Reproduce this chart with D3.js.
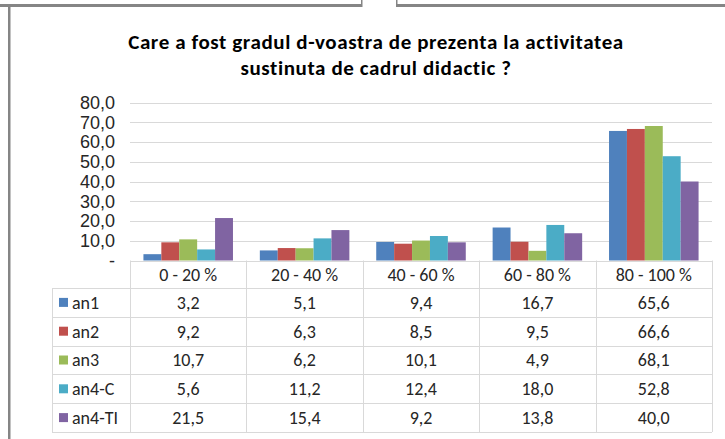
<!DOCTYPE html>
<html>
<head>
<meta charset="utf-8">
<script src="https://cdn.jsdelivr.net/npm/d3@7"></script>
<style>
  html, body { margin: 0; padding: 0; background: #fff; }
  svg { display: block; font-family: Carlito, Calibri, Lato, sans-serif; }
</style>
</head>
<body>
<div id="chart"></div>
<script>
// chart data
const categories = ["0 - 20 %", "20 - 40 %", "40 - 60 %", "60 - 80 %", "80 - 100 %"];
const seriesNames = ["an1", "an2", "an3", "an4-C", "an4-TI"];
const an1 = [3.2, 5.1, 9.4, 16.7, 65.6];
const an2 = [9.2, 6.3, 8.5, 9.5, 66.6];
const an3 = [10.7, 6.2, 10.1, 4.9, 68.1];
const an4C = [5.6, 11.2, 12.4, 18.0, 52.8];
const an4TI = [21.5, 15.4, 9.2, 13.8, 40.0];
const yTicks = [0, 10, 20, 30, 40, 50, 60, 70, 80];
const titleLines = ["Care a fost gradul d-voastra de prezenta la activitatea", "sustinuta de cadrul didactic ?"];

const seriesValues = [an1, an2, an3, an4C, an4TI];
const colors = ["#4F81BD", "#C0504D", "#9BBB59", "#4BACC6", "#8064A2"];

const width = 725, height = 439;
const plotLeft = 130, plotRight = 712, plotTop = 102.5, plotBottom = 260.5;
const tableLeft = 52, headerH = 27.5, rowH = 28.8;
const gridColor = "#d9d9d9", textColor = "#262626";
const fontSize = 18;

const locale = d3.formatLocale({decimal: ",", thousands: ".", grouping: [3], currency: ["", ""]});
const fmt = locale.format(".1f");
const tickFmt = v => v === 0 ? "-" : fmt(v);

const svg = d3.select("#chart").append("svg")
  .attr("width", width)
  .attr("height", height);

// window frame bits (top band with notch, left edge)
svg.append("rect").attr("x", 0).attr("y", 4).attr("width", 362).attr("height", 3).attr("fill", "#858585");
svg.append("rect").attr("x", 397).attr("y", 4).attr("width", width - 397).attr("height", 3).attr("fill", "#858585");
svg.append("rect").attr("x", 361).attr("y", 0).attr("width", 1.5).attr("height", 7).attr("fill", "#858585");
svg.append("rect").attr("x", 396).attr("y", 0).attr("width", 1.5).attr("height", 7).attr("fill", "#858585");
svg.append("rect").attr("x", 8).attr("y", 6).attr("width", 2.5).attr("height", height - 6).attr("fill", "#858585");

// title
svg.append("g").selectAll("text")
  .data(titleLines)
  .join("text")
  .attr("x", 376)
  .attr("y", (d, i) => 49 + i * 25.5)
  .attr("text-anchor", "middle")
  .attr("font-weight", "bold")
  .attr("font-size", 21)
  .attr("letter-spacing", 0.6)
  .attr("fill", "#000")
  .text(d => d);

const x0 = d3.scaleBand().domain(categories).range([plotLeft, plotRight]).padding(0);
const x1 = d3.scaleBand().domain(seriesNames).range([0, x0.bandwidth()])
  .paddingInner(0).paddingOuter(0.75);
const y = d3.scaleLinear().domain([0, 80]).range([plotBottom, plotTop]);

// gridlines
svg.append("g").selectAll("line")
  .data(yTicks)
  .join("line")
  .attr("x1", plotLeft).attr("x2", plotRight)
  .attr("y1", d => Math.round(y(d)) + 0.5).attr("y2", d => Math.round(y(d)) + 0.5)
  .attr("stroke", gridColor).attr("stroke-width", 1);

// y axis labels
const yAxis = d3.axisLeft(y).tickValues(yTicks).tickFormat(tickFmt).tickSize(0).tickPadding(15);
const gy = svg.append("g").attr("transform", `translate(${plotLeft},0)`).call(yAxis);
gy.select(".domain").remove();
gy.selectAll("text").attr("font-size", fontSize).attr("fill", textColor).attr("font-family", null);

// bars
const rows = seriesNames.map((name, i) => ({name, color: colors[i], values: seriesValues[i]}));
svg.append("g").selectAll("g")
  .data(rows)
  .join("g")
  .attr("fill", d => d.color)
  .selectAll("rect")
  .data(d => d.values.map((v, j) => ({name: d.name, cat: categories[j], v})))
  .join("rect")
  .attr("x", d => x0(d.cat) + x1(d.name))
  .attr("width", x1.bandwidth())
  .attr("y", d => y(d.v))
  .attr("height", d => y(0) - y(d.v));

// data table
const table = svg.append("g");
const tableBottom = plotBottom + headerH + rowH * seriesNames.length;
const colEdges = categories.map(c => x0(c)).concat([plotRight]);

// vertical lines
table.selectAll("line.v")
  .data(colEdges)
  .join("line")
  .attr("class", "v")
  .attr("x1", d => Math.round(d) + 0.5).attr("x2", d => Math.round(d) + 0.5)
  .attr("y1", plotBottom).attr("y2", tableBottom)
  .attr("stroke", gridColor);
table.append("line")
  .attr("x1", tableLeft + 0.5).attr("x2", tableLeft + 0.5)
  .attr("y1", plotBottom + headerH).attr("y2", tableBottom)
  .attr("stroke", gridColor);

// horizontal lines
const hLines = d3.range(seriesNames.length + 1).map(i => plotBottom + headerH + i * rowH);
table.selectAll("line.h")
  .data(hLines)
  .join("line")
  .attr("class", "h")
  .attr("x1", tableLeft).attr("x2", plotRight)
  .attr("y1", d => Math.round(d) + 0.5).attr("y2", d => Math.round(d) + 0.5)
  .attr("stroke", gridColor);

// header labels
table.selectAll("text.cat")
  .data(categories)
  .join("text")
  .attr("class", "cat")
  .attr("x", d => x0(d) + x0.bandwidth() / 2)
  .attr("y", plotBottom + headerH / 2)
  .attr("dy", "0.35em")
  .attr("text-anchor", "middle")
  .attr("font-size", fontSize)
  .attr("fill", textColor)
  .text(d => d);

// rows
const rowG = table.selectAll("g.row")
  .data(rows)
  .join("g")
  .attr("class", "row")
  .attr("transform", (d, i) => `translate(0,${plotBottom + headerH + i * rowH + rowH / 2})`);

rowG.append("rect")
  .attr("x", 59).attr("y", -4.5)
  .attr("width", 9).attr("height", 9)
  .attr("fill", d => d.color);

rowG.append("text")
  .attr("x", 72)
  .attr("dy", "0.35em")
  .attr("font-size", fontSize)
  .attr("fill", textColor)
  .text(d => d.name);

rowG.selectAll("text.val")
  .data(d => d.values.map((v, j) => ({v, cat: categories[j]})))
  .join("text")
  .attr("class", "val")
  .attr("x", d => x0(d.cat) + x0.bandwidth() / 2)
  .attr("dy", "0.35em")
  .attr("text-anchor", "middle")
  .attr("font-size", fontSize)
  .attr("fill", textColor)
  .text(d => fmt(d.v));
</script>
</body>
</html>
